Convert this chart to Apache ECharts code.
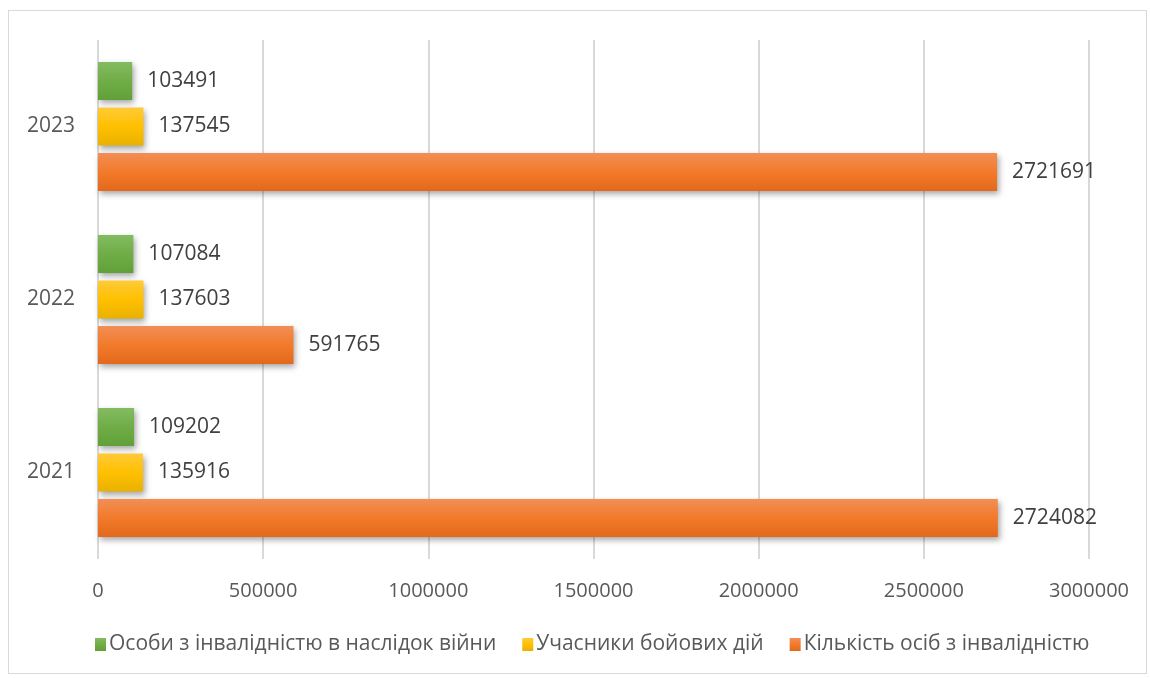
<!DOCTYPE html>
<html>
<head>
<meta charset="utf-8">
<script src="https://cdn.jsdelivr.net/npm/echarts@6/dist/echarts.min.js"></script>
<style>
  html, body { margin: 0; padding: 0; background: #fff; }
  #frame { position: absolute; left: 8px; top: 10px; width: 1139px; height: 664px; border: 1px solid #d9d9d9; box-sizing: border-box; }
  #chart { position: absolute; left: 0; top: 0; width: 1150px; height: 678px; }
</style>
</head>
<body>
<div id="frame"></div>
<div id="chart"></div>
<script>
// роки (знизу вгору)
const years = ["2021", "2022", "2023"];
const seriesNames = [
  "Особи з інвалідністю в наслідок війни",
  "Учасники бойових дій",
  "Кількість осіб з інвалідністю"
];
const warDisabled = [109202, 107084, 103491];
const combatants = [135916, 137603, 137545];
const totalDisabled = [2724082, 591765, 2721691];

const chart = echarts.init(document.getElementById("chart"));

// градієнт зверху-вниз для кожної смуги
function grad(top, mid, bottom) {
  return new echarts.graphic.LinearGradient(0, 0, 0, 1, [
    { offset: 0, color: top },
    { offset: 0.5, color: mid },
    { offset: 1, color: bottom }
  ]);
}

const font = "'Open Sans', 'Noto Sans', sans-serif";
const barShadow = {
  shadowColor: "rgba(0,0,0,0.35)",
  shadowBlur: 6,
  shadowOffsetX: 2,
  shadowOffsetY: 3
};
const label = {
  show: true,
  position: "right",
  distance: 15,
  color: "#404040",
  fontSize: 21,
  fontFamily: font
};

const option = {
  animation: false,
  grid: { left: 98, right: 61, top: 40, bottom: 119 },
  legend: {
    bottom: 18,
    left: 90,
    itemWidth: 11,
    itemHeight: 13,
    itemGap: 26,
    icon: "rect",
    textStyle: { color: "#595959", fontSize: 21, fontFamily: font, padding: [0, 0, 0, -2] }
  },
  xAxis: {
    type: "value",
    min: 0,
    max: 3000000,
    interval: 500000,
    axisLine: { show: false },
    axisTick: { show: false },
    splitLine: { lineStyle: { color: "#d9d9d9", width: 2 } },
    axisLabel: {
      color: "#595959", fontSize: 20, fontFamily: font, margin: 22,
      formatter: function (v) { return String(v); }
    }
  },
  yAxis: {
    type: "category",
    data: years,
    axisLine: { show: false },
    axisTick: { show: false },
    axisLabel: { color: "#595959", fontSize: 21, fontFamily: font, margin: 23 }
  },
  series: [
    {
      name: seriesNames[0],
      type: "bar",
      data: warDisabled,
      barWidth: 38,
      barGap: "20%",
      barCategoryGap: "25%",
      itemStyle: Object.assign({ color: grad("#84bb62", "#70ad47", "#61a038") }, barShadow),
      label: label
    },
    {
      name: seriesNames[1],
      type: "bar",
      data: combatants,
      barWidth: 38,
      itemStyle: Object.assign({ color: grad("#ffca38", "#ffc000", "#e9b100") }, barShadow),
      label: label
    },
    {
      name: seriesNames[2],
      type: "bar",
      data: totalDisabled,
      barWidth: 38,
      itemStyle: Object.assign({ color: grad("#f28e55", "#f27a2a", "#e2691c") }, barShadow),
      label: label
    }
  ]
};

chart.setOption(option);
</script>
</body>
</html>
